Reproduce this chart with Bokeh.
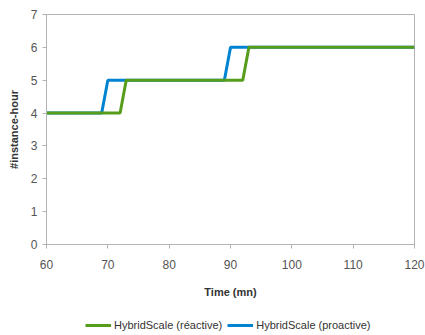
from bokeh.plotting import figure
from bokeh.layouts import column
from bokeh.embed import file_html
from bokeh.resources import INLINE
from bokeh.models import Range1d, FixedTicker, Legend, LegendItem

# data
time_reactive = [60, 72, 73, 92, 93, 120]
inst_reactive = [4, 4, 5, 5, 6, 6]
time_proactive = [60, 69, 70, 89, 90, 120]
inst_proactive = [4, 4, 5, 5, 6, 6]
x_ticks = [60, 70, 80, 90, 100, 110, 120]
y_ticks = [0, 1, 2, 3, 4, 5, 6, 7]
series_names = ["HybridScale (réactive)", "HybridScale (proactive)"]

GREEN = "#579d1c"
BLUE = "#0084d1"
FONT = "Liberation Sans"
AXC = "#b3b3b3"

p = figure(frame_width=368, frame_height=230, output_backend="svg", toolbar_location=None,
           x_range=Range1d(60, 120), y_range=Range1d(0, 7))
p.min_border_left = 46
p.min_border_right = 11
p.min_border_top = 14
p.min_border_bottom = 58

p.xgrid.visible = False
p.ygrid.visible = False
p.outline_line_color = AXC
p.outline_line_width = 1

for ax in (p.xaxis[0], p.yaxis[0]):
    ax.axis_line_color = AXC
    ax.major_tick_line_color = AXC
    ax.minor_tick_line_color = None
    ax.major_tick_in = 0
    ax.major_tick_out = 4
    ax.major_label_text_font = FONT
    ax.major_label_text_font_size = "12px"
    ax.major_label_text_color = "#555555"
    ax.axis_label_text_font = FONT
    ax.axis_label_text_font_size = "11px"
    ax.axis_label_text_font_style = "bold"
    ax.axis_label_text_color = "#333333"

p.xaxis[0].ticker = FixedTicker(ticks=x_ticks)
p.yaxis[0].ticker = FixedTicker(ticks=y_ticks)
p.xaxis[0].axis_label = "Time (mn)"
p.yaxis[0].axis_label = "#instance-hour"
p.xaxis[0].major_label_standoff = 11
p.xaxis[0].axis_label_standoff = 14
p.yaxis[0].major_label_standoff = 5
p.yaxis[0].axis_label_standoff = 8

p.line(time_proactive, inst_proactive, line_color=BLUE, line_width=3)
p.line(time_reactive, inst_reactive, line_color=GREEN, line_width=3)

# legend strip below the chart (its lines lie outside its visible range)
p2 = figure(width=425, height=33, output_backend="svg", toolbar_location=None,
            x_range=Range1d(60, 120), y_range=Range1d(100, 101),
            x_axis_location=None, y_axis_location=None)
p2.min_border = 0
p2.min_border_left = 0
p2.min_border_right = 0
p2.min_border_top = 0
p2.min_border_bottom = 0
p2.xgrid.visible = False
p2.ygrid.visible = False
p2.outline_line_color = None

l_rea = p2.line(time_reactive, inst_reactive, line_color=GREEN, line_width=3)
l_pro = p2.line(time_proactive, inst_proactive, line_color=BLUE, line_width=3)

legend = Legend(items=[LegendItem(label=series_names[0], renderers=[l_rea]),
                       LegendItem(label=series_names[1], renderers=[l_pro])],
                orientation="horizontal", location=(39, 0))
legend.label_text_font = FONT
legend.label_text_font_size = "11px"
legend.label_text_color = "#333333"
legend.glyph_width = 26
legend.glyph_height = 12
legend.label_height = 20
legend.label_standoff = 3
legend.spacing = 5
legend.padding = 2
legend.margin = 0
legend.border_line_color = None
legend.background_fill_alpha = 0
p2.add_layout(legend, "center")

open("out.html", "w").write(file_html(column(p, p2, spacing=0), INLINE))
